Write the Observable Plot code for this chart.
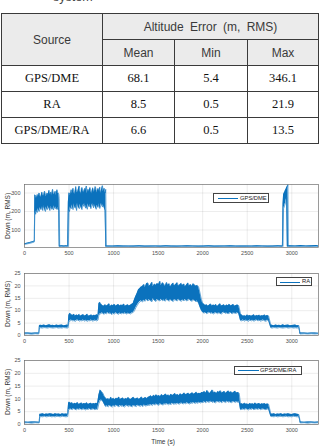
<!DOCTYPE html>
<html>
<head>
<meta charset="utf-8">
<script src="https://cdn.jsdelivr.net/npm/d3@7"></script>
<script src="https://cdn.jsdelivr.net/npm/@observablehq/plot@0.6"></script>
<style>
  html, body { margin: 0; padding: 0; background: #fff; }
  #page { position: relative; width: 323px; height: 447px; overflow: hidden; background: #fff; font-family: "Liberation Sans", Arial, sans-serif; }
  .abs { position: absolute; }
  #caption { left: 53px; top: -9px; font-size: 12.5px; line-height: 12.5px; color: #444; }
  table.stats { position: absolute; left: 1px; top: 13px; width: 317px; border-collapse: collapse; table-layout: fixed; border: 1.6px solid #222; }
  table.stats td { border: 1px solid #3a3a3a; text-align: center; vertical-align: middle; padding: 0; height: 25px; }
  table.stats td.h { background: #ebebeb; font-family: "Liberation Sans", Arial, sans-serif; font-size: 12px; color: #3a3a3a; word-spacing: 3px; }
  table.stats td.b { font-family: "Liberation Serif", "Times New Roman", serif; font-size: 12.5px; color: #111; }
  .ylab { font-size: 6.5px; color: #333; white-space: nowrap; transform: translate(-50%, -50%) rotate(-90deg); }
  .xlab { font-size: 6.5px; color: #333; white-space: nowrap; transform: translate(-50%, -50%); }
  .legend { background: #fff; border: 0.7px solid #444; box-sizing: border-box; }
  .legend .sw { position: absolute; height: 0; border-top: 1px solid #0b72bd; }
  .legend .tx { position: absolute; font-size: 5.8px; color: #222; white-space: nowrap; line-height: 1; }
  .chart svg { overflow: visible; }
</style>
</head>
<body>
<div id="page">
  <div id="caption" class="abs">system</div>
  <table class="stats" id="stats"></table>
</div>
<script>
// ---- summary table ----
const sources = ["GPS/DME", "RA", "GPS/DME/RA"];
const meanErr = ["68.1", "8.5", "6.6"];
const minErr = ["5.4", "0.5", "0.5"];
const maxErr = ["346.1", "21.9", "13.5"];
const statCols = ["Mean", "Min", "Max"];

// ---- GPS/DME altitude error ----
const dmeT = [0,30,60,90,110, 116,
  125,135,145,155,165,175,185,195,205,215,225,235,245,255,265,275,285,295,305,315,325,335,345,355,365,375,385,
  390,395, 420,445,470,485, 492,500,
  505,515,525,535,545,555,565,575,585,595,605,615,625,635,645,655,665,675,685,695,705,715,725,735,745,755,765,775,785,795,805,815,825,835,845,855,865,875,885,895,905,
  912,918,
  930,990,1050,1110,1170,1230,1290,1350,1410,1470,1530,1590,1650,1710,1770,1830,1890,1950,2010,2070,2130,2190,2250,2310,2370,2430,2490,2550,2610,2670,2730,2790,2850,
  2895,2902, 2908,2915,2922,2929,2936,2943, 2950,2957,2962,
  2980,3040,3100,3160,3220,3280,3300];
const dmeLo = [22,25,28,32,35, 200,
  185,205,195,215,200,220,210,225,205,230,215,200,225,210,230,218,205,228,212,222,208,230,215,225,210,220,205,
  10,8, 9,8,9,8, 10,210,
  200,225,215,235,210,240,220,230,205,245,225,215,238,222,210,235,228,245,218,232,212,240,225,236,215,230,244,220,238,226,212,234,222,240,216,230,245,224,236,220,205,
  10,8,
  8,9,8,8,9,8,9,8,8,9,8,9,8,8,9,8,9,8,8,9,8,8,9,8,9,8,8,9,8,9,8,8,9,
  8,10, 215,225,235,245,260,275, 10,10,8,
  8,9,8,9,8,9,8];
const dmeHi = [26,29,32,36,40, 290,
  285,270,292,278,300,286,275,305,290,282,310,295,280,300,288,315,292,305,284,320,298,290,310,286,318,300,295,
  270,14, 15,14,15,14, 250,300,
  300,285,318,296,326,305,290,335,310,300,322,338,308,295,330,315,300,325,310,338,298,320,306,330,312,295,328,316,304,335,318,300,325,310,332,296,318,340,308,326,300,
  320,14,
  14,13,15,14,13,14,15,13,14,14,13,15,14,13,14,15,14,13,14,15,13,14,14,15,13,14,14,13,15,14,13,14,15,
  14,240, 290,300,305,315,320,330, 335,346.1,15,
  15,14,16,14,15,16,14];

// ---- RA altitude error ----
const raT = [0,40,80,120,160, 168,
  180,200,220,240,260,280,300,320,340,360,380,400,420,440,460,480, 490,
  498, 510,525,540,555,570,585,600,615,630,645,660,675,690,705,720,735,750,765,780,795,810,825,
  835, 845,860,875,890,905,920,935,950,965,980,995,1010,1025,1040,1055,1070,1085,1100,1115,1130,1145,1160,1175,1190,1205,1220,
  1235,1250,1265,1280,1295,1310,
  1325,1340,1355,1370,1385,1400,1415,1430,1445,1460,1475,1490,1505,1520,1535,1550,1565,1580,1595,1610,1625,1640,1655,1670,1685,1700,1715,1730,1745,1760,1775,1790,1805,1820,1835,1850,1865,1880,1895,1910,1925,1940,
  1955,1970,1985,2000,
  2015,2030,2045,2060,2075,2090,2105,2120,2135,2150,2165,2180,2195,2210,2225,2240,2255,2270,2285,2300,2315,2330,2345,2360,2375,2390,2405,
  2425, 2440,2455,2470,2485,2500,2515,2530,2545,2560,2575,2590,2605,2620,2635,2650,2665,2680,2695,2710,2725,2740,
  2765, 2780,2800,2820,2840,2860,2880,2900,2920,2940,2960,2980,3000,3020,3040,3060,3080,
  3092, 3140,3180,3220,3260,3300];
const raLo = [0.6,0.7,0.5,0.7,0.6, 3.0,
  3.1,3.0,3.2,3.1,3.0,3.2,3.1,3.0,3.1,3.2,3.0,3.1,3.0,3.2,3.1,3.0, 3.1,
  5.6, 5.8,6.2,5.9,6.0,5.7,6.1,6.3,5.8,6.0,5.9,6.2,5.8,6.1,5.7,6.0,5.9,6.2,5.8,6.0,6.1,5.9,6.2,
  8.2, 8.6,8.9,9.2,8.5,9.0,8.7,9.3,8.8,9.1,8.4,9.0,8.6,9.2,8.9,8.5,9.1,8.7,9.0,8.8,9.2,8.6,9.0,8.9,8.7,9.1,9.3,
  10.0,11.2,12.1,13.0,13.6,14.0,
  13.5,14.2,13.8,14.6,13.9,14.4,14.0,13.6,14.8,14.1,13.7,14.5,14.2,13.9,14.6,14.0,14.3,13.8,14.7,14.1,13.9,14.4,14.0,13.7,14.5,14.2,13.9,14.6,14.1,13.8,14.3,14.0,14.5,13.9,14.2,14.6,14.0,13.8,14.3,14.1,13.6,13.9,
  13.0,11.5,10.2,9.4,
  9.0,9.3,8.8,9.1,9.4,8.9,9.2,8.7,9.0,9.3,8.8,9.1,9.0,8.6,9.2,9.4,8.9,9.1,8.8,9.0,9.3,8.7,9.1,9.0,8.9,9.2,8.8,
  6.0, 5.9,6.2,5.8,6.1,6.0,5.7,6.2,5.9,6.1,5.8,6.0,6.3,5.9,6.1,5.8,6.0,6.2,5.9,5.7,6.1,6.0,
  3.1, 3.0,3.2,3.1,3.0,3.2,3.1,3.0,3.1,3.2,3.0,3.1,3.2,3.0,3.1,3.0,3.2,
  0.6, 0.7,0.6,0.7,0.6,0.7];
const raHi = [1.0,1.0,0.9,1.0,1.0, 4.0,
  4.1,4.0,4.2,3.9,4.1,4.3,4.0,4.1,3.9,4.2,4.0,4.1,4.2,3.9,4.0,4.2, 4.0,
  8.2, 9.0,8.4,8.1,8.6,7.9,8.3,8.0,8.5,7.8,8.2,8.4,7.9,8.1,8.6,7.8,8.0,8.3,7.9,8.2,8.0,8.4,8.1,
  12.8, 13.4,12.6,12.1,11.8,12.4,11.9,12.2,12.8,11.7,12.3,12.0,12.6,11.8,12.2,12.5,11.9,12.3,12.0,12.7,11.8,12.1,12.4,11.9,12.2,12.6,12.9,
  14.5,15.8,17.0,18.4,19.0,19.6,
  19.8,20.6,19.4,20.9,21.2,19.9,20.4,21.5,19.7,20.8,20.2,21.0,20.5,21.9,20.1,21.3,20.7,19.8,21.4,20.3,20.9,19.6,20.6,21.1,20.0,20.7,21.3,19.9,20.5,21.0,20.2,20.8,19.7,20.4,21.2,20.0,20.6,19.8,20.9,20.3,19.9,20.2,
  19.5,17.2,14.6,13.0,
  12.6,12.1,12.4,11.8,12.2,12.7,11.9,12.3,12.0,12.5,11.7,12.2,12.8,11.9,12.1,12.4,11.8,12.3,12.0,12.6,11.9,12.2,12.5,11.8,12.1,12.3,12.0,
  8.8, 8.2,7.8,8.0,7.7,8.3,7.9,8.1,7.8,8.0,8.4,7.7,8.1,7.9,8.2,7.8,8.0,7.9,8.3,7.8,8.1,7.9,
  4.2, 4.1,3.9,4.2,4.0,4.1,3.9,4.3,4.0,4.1,4.2,3.9,4.0,4.1,4.2,3.9,4.0,
  1.0, 1.0,0.9,1.0,1.0,0.9];

// ---- GPS/DME/RA altitude error ----
const fusT = [0,40,80,120,165, 172,
  185,205,225,245,265,285,305,325,345,365,385,405,425,445,465,485,
  495, 505,520,535,550,565,580,595,610,625,640,655,670,685,700,715,730,745,760,775,790,805,820,
  835,850,865,880,895,
  910,925,940,955,970,985,1000,1015,1030,1045,1060,1075,1090,1105,1120,1135,1150,1165,1180,1195,1210,1225,1240,1255,1270,1285,1300,1315,1330,1345,1360,1375,1390,
  1405,1420,1435,1450,1465,1480,1495,1510,1525,1540,1555,1570,1585,1600,1615,1630,1645,1660,1675,1690,1705,1720,1735,1750,1765,1780,1795,1810,1825,1840,1855,1870,1885,1900,1915,1930,1945,1960,1975,1990,
  2005,2020,2035,2050,2065,2080,2095,2110,2125,2140,2155,2170,2185,2200,2215,2230,2245,2260,2275,2290,2305,2320,2335,2350,2365,2380,2395,2410,
  2425, 2440,2455,2470,2485,2500,2515,2530,2545,2560,2575,2590,2605,2620,2635,2650,2665,2680,2695,2710,2725,2740,
  2765, 2780,2800,2820,2840,2860,2880,2900,2920,2940,2960,2980,3000,3020,3040,3060,3080,
  3095, 3140,3180,3220,3260,3300];
const fusLo = [0.6,0.7,0.5,0.7,0.6, 3.0,
  3.1,3.0,3.2,3.0,3.1,3.2,3.0,3.1,3.0,3.2,3.1,3.0,3.2,3.1,3.0,3.1,
  5.7, 5.9,6.1,5.8,6.2,6.0,5.7,6.1,5.9,6.2,5.8,6.0,6.1,5.7,6.0,5.9,6.2,5.8,6.0,6.1,5.8,6.0,5.9,
  8.2,9.4,9.6,9.0,8.0,
  7.0,7.3,6.9,7.4,7.1,6.8,7.3,7.0,7.5,7.2,6.9,7.4,7.1,7.3,6.8,7.2,7.5,7.0,7.3,7.1,6.9,7.4,7.2,7.0,7.5,7.3,7.1,7.4,7.0,7.6,7.2,7.4,7.5,
  7.5,7.8,7.4,7.9,7.6,8.0,7.7,7.5,8.1,7.8,7.6,8.0,7.9,8.2,7.7,8.0,7.8,8.3,7.9,8.1,8.0,8.3,7.9,8.2,8.4,8.0,8.3,8.1,8.5,8.2,8.0,8.4,8.3,8.6,8.2,8.5,8.3,8.7,8.4,8.6,
  8.6,8.9,8.5,9.0,8.7,8.8,9.1,8.6,8.9,8.4,8.8,9.0,8.7,8.9,8.5,9.0,8.8,8.6,9.1,8.7,8.9,8.5,8.8,9.0,8.6,8.9,8.7,8.8,
  5.8, 5.9,6.1,5.8,6.2,6.0,5.7,6.1,5.9,6.2,5.8,6.0,6.1,5.9,6.2,5.8,6.0,6.1,5.9,5.8,6.0,6.1,
  3.1, 3.1,3.0,3.2,3.0,3.1,3.2,3.0,3.1,3.2,3.0,3.1,3.0,3.2,3.1,3.0,3.1,
  0.6, 0.7,0.5,0.7,0.6,0.7];
const fusHi = [1.0,0.9,1.0,1.0,0.9, 4.0,
  4.0,4.2,3.9,4.1,4.0,4.2,4.1,3.9,4.2,4.0,4.1,3.9,4.2,4.0,4.1,4.0,
  8.4, 8.8,8.2,8.5,7.9,8.3,8.0,8.6,7.8,8.1,8.4,7.9,8.2,8.0,8.5,7.8,8.1,8.3,7.9,8.2,8.0,8.3,8.1,
  11.5,13.5,12.8,12.2,11.0,
  10.4,9.8,10.1,9.6,10.6,9.9,10.2,9.7,10.3,10.0,10.7,9.8,10.1,10.4,9.7,10.2,9.9,10.5,10.0,9.8,10.3,10.6,9.9,10.1,10.4,9.8,10.2,10.7,10.0,10.3,10.5,10.1,10.6,
  10.8,11.2,10.6,11.4,10.9,11.6,11.0,11.3,10.8,11.7,11.1,11.4,11.9,11.2,11.5,11.0,11.8,11.3,11.6,12.1,11.4,11.7,11.2,12.0,11.5,11.8,12.3,11.6,11.9,12.2,11.7,12.0,12.4,11.8,12.1,12.6,11.9,12.2,12.0,12.5,
  12.4,12.9,12.2,13.3,12.6,12.1,12.8,13.5,12.3,12.7,12.0,12.9,12.5,13.2,12.2,12.6,12.9,12.1,12.7,13.1,12.4,12.8,12.2,12.6,13.0,12.3,12.5,12.2,
  8.0, 8.1,7.8,8.3,7.9,8.0,7.7,8.2,7.9,8.1,7.8,8.4,7.9,8.0,8.2,7.8,8.1,7.9,8.2,7.8,8.0,7.9,
  4.2, 4.0,4.2,3.9,4.1,4.0,4.2,3.9,4.1,4.0,4.2,4.0,3.9,4.1,4.2,4.0,3.9,
  1.0, 0.9,1.0,1.0,0.9,1.0];

// ---- axes ticks ----
const timeTicks = [0, 500, 1000, 1500, 2000, 2500, 3000];
const dmeTicks = [100, 200, 300];
const raTicks = [0, 5, 10, 15, 20, 25];

const BLUE = "#0b72bd";
const page = document.getElementById("page");

// build the table
const tbl = document.getElementById("stats");
tbl.innerHTML =
  `<colgroup><col style="width:101px"><col style="width:72px"><col style="width:73px"><col style="width:71px"></colgroup>` +
  `<tr><td class="h" rowspan="2">Source</td><td class="h" colspan="3">Altitude Error (m, RMS)</td></tr>` +
  `<tr>${statCols.map(c => `<td class="h" style="word-spacing:0">${c}</td>`).join("")}</tr>` +
  sources.map((s, i) => `<tr><td class="b">${s}</td><td class="b">${meanErr[i]}</td><td class="b">${minErr[i]}</td><td class="b">${maxErr[i]}</td></tr>`).join("");

function series(t, lo, hi) {
  if (t.length !== lo.length || t.length !== hi.length) throw new Error(`length mismatch ${t.length} ${lo.length} ${hi.length}`);
  return t.map((x, i) => ({t: x, lo: lo[i], hi: hi[i]}));
}

function place(node, left, top, cls) {
  const d = document.createElement("div");
  d.className = "abs " + (cls || "");
  d.style.left = left + "px";
  d.style.top = top + "px";
  d.append(node);
  page.append(d);
  return d;
}

const plain = d => String(d);

function errorPanel({data, yDomain, yTicks, top, plotH, mTop, mBottom}) {
  const svg = Plot.plot({
    width: 323,
    height: mTop + plotH + mBottom,
    marginLeft: 24, marginRight: 5, marginTop: mTop, marginBottom: mBottom,
    style: {background: "transparent", fontFamily: "'Liberation Sans', Arial, sans-serif", color: "#4d4d4d"},
    x: {domain: [0, 3300]},
    y: {domain: yDomain},
    marks: [
      Plot.gridX(timeTicks, {stroke: "#000", strokeOpacity: 0.13, strokeWidth: 0.6}),
      Plot.gridY(yTicks, {stroke: "#000", strokeOpacity: 0.13, strokeWidth: 0.6}),
      Plot.areaY(data, {x: "t", y1: "lo", y2: "hi", fill: BLUE, clip: true}),
      Plot.lineY(data, {x: "t", y: "lo", stroke: BLUE, strokeWidth: 0.6, clip: true}),
      Plot.lineY(data, {x: "t", y: "hi", stroke: BLUE, strokeWidth: 0.6, clip: true}),
      Plot.frame({stroke: "#707070", strokeWidth: 0.7}),
      Plot.axisX(timeTicks, {tickSize: 0, tickPadding: 4, fontSize: 5.5, label: null, tickFormat: plain}),
      Plot.axisY(yTicks, {tickSize: 0, tickPadding: 4, fontSize: 5.5, label: null, tickFormat: plain})
    ]
  });
  place(svg, 0, top, "chart");
}

function legend(label, left, top, w, h, swL, swW, txL) {
  const box = document.createElement("div");
  box.className = "abs legend";
  Object.assign(box.style, {left: left + "px", top: top + "px", width: w + "px", height: h + "px"});
  const sw = document.createElement("div");
  sw.className = "sw";
  Object.assign(sw.style, {left: swL + "px", width: swW + "px", top: (h / 2 - 1) + "px"});
  const tx = document.createElement("div");
  tx.className = "tx";
  Object.assign(tx.style, {left: txL + "px", top: (h / 2 - 3.4) + "px"});
  tx.textContent = label;
  box.append(sw, tx);
  page.append(box);
}

function axisLabel(text, x, y, cls) {
  const d = document.createElement("div");
  d.className = "abs " + cls;
  d.style.left = x + "px";
  d.style.top = y + "px";
  d.textContent = text;
  page.append(d);
}

// three stacked panels
errorPanel({data: series(dmeT, dmeLo, dmeHi), yDomain: [5.4, 346.1], yTicks: dmeTicks, top: 174, plotH: 63, mTop: 10, mBottom: 14});
errorPanel({data: series(raT, raLo, raHi), yDomain: [0, 25], yTicks: raTicks, top: 263, plotH: 62, mTop: 10, mBottom: 14});
errorPanel({data: series(fusT, fusLo, fusHi), yDomain: [0, 25], yTicks: raTicks, top: 350, plotH: 64, mTop: 10, mBottom: 14});

legend(sources[0], 213, 193, 56, 10, 4, 20, 26);
legend(sources[1], 276, 277, 36, 9, 3, 20, 25);
legend(sources[2], 234, 366, 68, 8.5, 3, 21, 25);

axisLabel("Down (m, RMS)", 6.5, 215.5, "ylab");
axisLabel("Down (m, RMS)", 6.5, 304, "ylab");
axisLabel("Down (m, RMS)", 6.5, 392, "ylab");
axisLabel("Time (s)", 163, 441, "xlab");
</script>
</body>
</html>
